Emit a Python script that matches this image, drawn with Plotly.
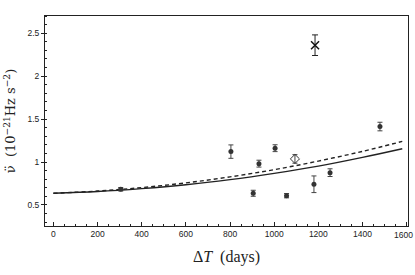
import plotly.graph_objects as go

# Filled-circle observations
obs_t = [305, 804, 905, 931, 1004, 1056, 1180, 1253, 1479]
obs_nu = [0.683, 1.121, 0.636, 0.981, 1.161, 0.608, 0.741, 0.876, 1.413]
obs_err = [0.02, 0.078, 0.035, 0.04, 0.04, 0.025, 0.097, 0.045, 0.05]

# Open diamond observation
dia_t = [1094]
dia_nu = [1.036]
dia_err = [0.05]

# Cross observation
x_t = [1185]
x_nu = [2.36]
x_err = [0.12]

# Model curves
curve_t = [0, 200, 400, 600, 800, 1000, 1200, 1400, 1580]
solid_nu = [0.636, 0.656, 0.690, 0.735, 0.795, 0.868, 0.952, 1.054, 1.155]
dashed_nu = [0.636, 0.662, 0.702, 0.757, 0.827, 0.911, 1.011, 1.124, 1.240]

x_ticks = [0, 200, 400, 600, 800, 1000, 1200, 1400, 1600]
x_ticklabels = ["0", "200", "400", "600", "800", "1000", "1200", "1400", ""]
last_tick_label = "1600"
y_ticks = [0.5, 1, 1.5, 2, 2.5]
y_ticklabels = ["0.5", "1", "1.5", "2", "2.5"]

fig = go.Figure()
fig.add_trace(go.Scatter(x=curve_t, y=solid_nu, mode="lines", line=dict(color="#222", width=1.4, shape="spline")))
fig.add_trace(go.Scatter(x=curve_t, y=dashed_nu, mode="lines", line=dict(color="#222", width=1.4, dash="4px,3px", shape="spline")))
fig.add_trace(go.Scatter(x=obs_t, y=obs_nu, mode="markers",
                         marker=dict(symbol="circle", size=5, color="#333"),
                         error_y=dict(type="data", array=obs_err, color="#444", thickness=1, width=2.5)))
fig.add_trace(go.Scatter(x=dia_t, y=dia_nu, mode="markers",
                         marker=dict(symbol="diamond-open", size=7, color="#333", line=dict(width=1)),
                         error_y=dict(type="data", array=dia_err, color="#444", thickness=1, width=2.5)))
fig.add_trace(go.Scatter(x=x_t, y=x_nu, mode="markers",
                         marker=dict(symbol="x-thin-open", size=8, color="#111", line=dict(width=1.5, color="#111")),
                         error_y=dict(type="data", array=x_err, color="#222", thickness=1, width=3)))

fig.update_layout(
    width=415, height=275,
    margin=dict(l=45, r=7, t=16, b=49),
    paper_bgcolor="white", plot_bgcolor="white",
    showlegend=False,
    font=dict(family="Liberation Sans, Arial, sans-serif", size=8.5, color="#222"),
)
fig.add_annotation(x=x_ticks[-1], xref="x", y=0, yref="paper", text=last_tick_label,
                   showarrow=False, xanchor="center", yanchor="top", xshift=-3, yshift=-2,
                   font=dict(family="Liberation Sans, Arial, sans-serif", size=8.5, color="#222"))
fig.update_xaxes(
    automargin=False, ticklabeloverflow="allow",
    range=[-38, 1606], tickvals=x_ticks, ticktext=x_ticklabels,
    ticks="inside", ticklen=4, tickwidth=1, tickcolor="#222",
    minor=dict(dtick=50, ticks="inside", ticklen=2, tickcolor="#222"),
    showline=True, linecolor="#222", linewidth=1, mirror=True,
    showgrid=False, zeroline=False,
    title=dict(text="Δ<i>T</i>  (days)", font=dict(family="Liberation Serif, serif", size=16, color="#222"), standoff=12),
)
fig.update_yaxes(
    automargin=False,
    range=[0.255, 2.70], tickvals=y_ticks, ticktext=y_ticklabels,
    ticks="outside", ticklen=3, tickwidth=1, tickcolor="#222",
    minor=dict(dtick=0.1, tick0=0, ticks="inside", ticklen=2, tickcolor="#222"),
    showline=True, linecolor="#222", linewidth=1, mirror=True,
    showgrid=False, zeroline=False,
    title=dict(text="ν̈  (10<sup>−21</sup>Hz s<sup>−2</sup>)", font=dict(family="DejaVu Serif, serif", size=13, color="#222"), standoff=8),
)

fig.write_html("out.html", config={"displayModeBar": False},
               post_script="document.body.style.margin='0';")
